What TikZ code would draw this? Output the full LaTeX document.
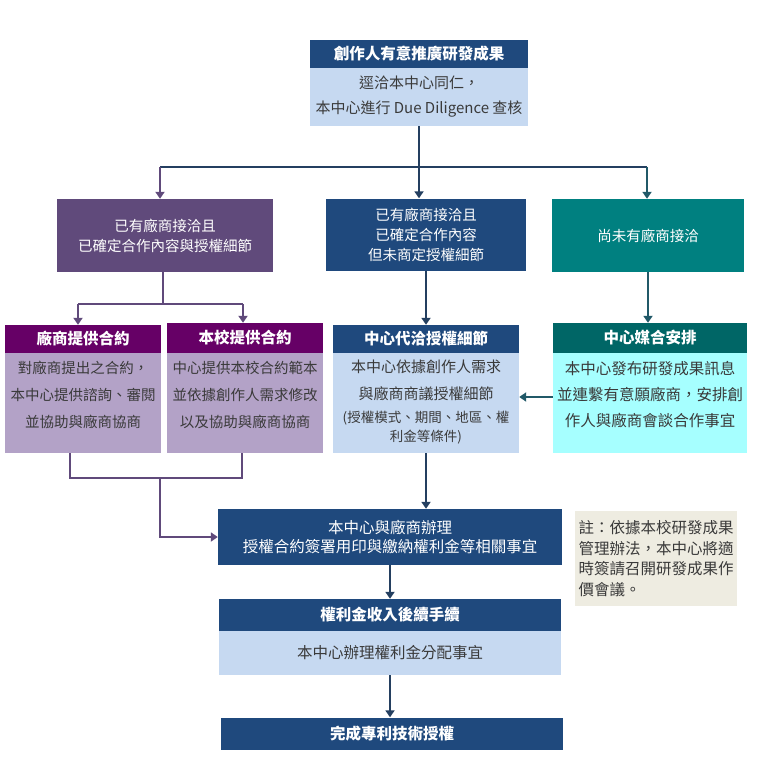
\documentclass[tikz,border=0pt]{standalone}
\usepackage{fontspec}
\setmainfont{Noto Sans CJK TC}
\usetikzlibrary{arrows.meta}

\definecolor{navy}{HTML}{1F497D}
\definecolor{paleblue}{HTML}{C6D9F1}
\definecolor{grape}{HTML}{604A7B}
\definecolor{plum}{HTML}{660066}
\definecolor{lilac}{HTML}{B3A2C7}
\definecolor{sea}{HTML}{008080}
\definecolor{deepsea}{HTML}{006666}
\definecolor{aqua}{HTML}{A6FFFF}
\definecolor{linen}{HTML}{EEECE1}
\definecolor{ink}{HTML}{243F60}
\definecolor{seaink}{HTML}{215968}
\definecolor{bodytext}{HTML}{3A3A3A}

\tikzset{
  box/.style={rectangle, inner sep=0pt, align=center},
  title/.style={box, fill=navy, text=white, font=\fontsize{15.5}{18}\bfseries\selectfont},
  body/.style={box, fill=paleblue, text=bodytext, font=\fontsize{15}{25}\selectfont},
  case/.style={box, text=white, font=\fontsize{14.5}{20}\selectfont},
  flow/.style={draw=ink, line width=2.9pt},
  grapeflow/.style={draw=grape, line width=2.9pt},
  seaflow/.style={draw=seaink, line width=2.9pt},
  tip/.style={-{Triangle[width=9pt,length=7pt]}}
}

\begin{document}
\begin{tikzpicture}[x=1pt, y=-1pt]
    \path[use as bounding box, fill=white] (0,0) rectangle (757,762);

    \node (idea-title) at (419,54) [title, minimum width=218pt, minimum height=28pt] {創作人有意推廣研發成果};
    \node (idea-body) at (419,97) [body, minimum width=218pt, minimum height=58pt] {逕洽本中心同仁，\\本中心進行 Due Diligence 查核};

    \node (contract-case) at (165,235.5) [case, fill=grape, minimum width=216pt, minimum height=73pt] {已有廠商接洽且\\已確定合作內容與授權細節};
    \node (nego-case) at (426,234.5) [case, fill=navy, minimum width=200pt, minimum height=72pt] {已有廠商接洽且\\已確定合作內容\\但未商定授權細節};
    \node (none-case) at (648,235.5) [case, fill=sea, minimum width=192pt, minimum height=73pt] {尚未有廠商接洽};

    \node (firm-title) at (83,339) [title, fill=plum, minimum width=156pt, minimum height=28pt] {廠商提供合約};
    \node (firm-body) at (83,403) [body, fill=lilac, minimum width=156pt, minimum height=100pt] {};
    \node (firm-text) at (83,395) [body, fill=none, font=\fontsize{14.5}{27}\selectfont] {對廠商提出之合約，\\本中心提供諮詢、審閱\\並協助與廠商協商};

    \node (school-title) at (245,338) [title, fill=plum, minimum width=156pt, minimum height=30pt] {本校提供合約};
    \node (school-body) at (245,403) [body, fill=lilac, minimum width=156pt, minimum height=100pt] {};
    \node (school-text) at (245,395) [body, fill=none, font=\fontsize{14.5}{27}\selectfont] {中心提供本校合約範本\\並依據創作人需求修改\\以及協助與廠商協商};

    \node (agent-title) at (426,339) [title, minimum width=186pt, minimum height=28pt] {中心代洽授權細節};
    \node (agent-body) at (426,403) [body, minimum width=186pt, minimum height=100pt] {};
    \node (agent-text) at (426,402) [body, fill=none, font=\fontsize{15}{27}\selectfont] {本中心依據創作人需求\\與廠商商議授權細節\\[-4pt]{\fontsize{13.5}{20}\selectfont (授權模式、期間、地區、權}\\[-8pt]{\fontsize{13.5}{20}\selectfont 利金等條件)}};

    \node (match-title) at (650,338) [title, fill=deepsea, minimum width=194pt, minimum height=30pt] {中心媒合安排};
    \node (match-body) at (650,403) [body, fill=aqua, minimum width=194pt, minimum height=100pt] {};
    \node (match-text) at (650,395) [body, fill=none, font=\fontsize{15.5}{26}\selectfont] {本中心發布研發成果訊息\\並連繫有意願廠商，安排創\\作人與廠商會談合作事宜};

    \node (sign-box) at (390,537) [case, fill=navy, minimum width=344pt, minimum height=56pt, font=\fontsize{15.5}{19.5}\selectfont] {本中心與廠商辦理\\授權合約簽署用印與繳納權利金等相關事宜};

    \node (note) at (656,558.5) [box, fill=linen, text=bodytext, align=left, minimum width=162pt, minimum height=95pt, font=\fontsize{15.5}{20.5}\selectfont] {註：依據本校研發成果\\管理辦法，本中心將適\\時簽請召開研發成果作\\價會議。};

    \node (fee-title) at (390,615) [title, minimum width=342pt, minimum height=32pt] {權利金收入後續手續};
    \node (fee-body) at (390,653) [body, minimum width=342pt, minimum height=44pt, font=\fontsize{15.5}{20}\selectfont] {本中心辦理權利金分配事宜};

    \node (done-box) at (392,733.5) [title, minimum width=342pt, minimum height=32pt] {完成專利技術授權};

    \coordinate (split-w) at (160,167);
    \coordinate (split-e) at (647,167);
    \coordinate (fork) at (163,304);
    \coordinate (fork-w) at (78,304);
    \coordinate (fork-e) at (243,304);
    \coordinate (offer) at (553,397);
    \coordinate (merge) at (160,478);
    \coordinate (merge-w) at (70,478);
    \coordinate (merge-e) at (242,478);

    \draw[flow] (split-w) -- (split-e);
    \draw[flow, tip] (idea-body.south) -- (idea-body.south |- nego-case.north);
    \draw[grapeflow, tip] (split-w) -- (split-w |- contract-case.north);
    \draw[seaflow, tip] (split-e) -- (split-e |- none-case.north);

    \draw[grapeflow] (contract-case.south -| fork) -- (fork);
    \draw[grapeflow] (fork-w) -- (fork-e);
    \draw[grapeflow, tip] (fork-w) -- (fork-w |- firm-title.north);
    \draw[grapeflow, tip] (fork-e) -- (fork-e |- school-title.north);

    \draw[flow, tip] (nego-case) -- (agent-title);
    \draw[seaflow, tip] (none-case.south) -- (none-case.south |- match-title.north);
    \draw[seaflow, tip] (match-body.west |- offer) -- (agent-body.east |- offer);

    \draw[grapeflow] (firm-body.south -| merge-w) -- (merge-w) -- (merge-e) -- (school-body.south -| merge-e);
    \draw[grapeflow, tip] (merge) |- (sign-box.west);
    \draw[flow, tip] (agent-body.south) -- (agent-body.south |- sign-box.north);

    \draw[flow, tip] (sign-box) -- (fee-title);
    \draw[flow, tip] (fee-body.south) -- (fee-body.south |- done-box.north);
\end{tikzpicture}
\end{document}
